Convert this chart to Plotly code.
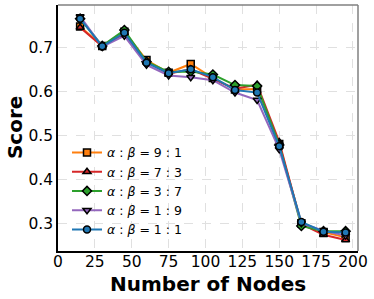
import plotly.graph_objects as go

nodes = [15, 30, 45, 60, 75, 90, 105, 120, 135, 150, 165, 180, 195]
s_9_1 = [0.747, 0.703, 0.735, 0.671, 0.642, 0.662, 0.630, 0.604, 0.605, 0.480, 0.300, 0.280, 0.268]
s_7_3 = [0.745, 0.702, 0.730, 0.667, 0.640, 0.650, 0.628, 0.606, 0.615, 0.485, 0.298, 0.274, 0.262]
s_3_7 = [0.765, 0.703, 0.739, 0.667, 0.644, 0.645, 0.638, 0.614, 0.612, 0.478, 0.294, 0.282, 0.282]
s_1_9 = [0.770, 0.701, 0.726, 0.660, 0.636, 0.632, 0.625, 0.597, 0.580, 0.468, 0.300, 0.283, 0.272]
s_1_1 = [0.765, 0.702, 0.733, 0.665, 0.641, 0.650, 0.632, 0.603, 0.597, 0.475, 0.303, 0.281, 0.279]

labels = ["9 : 1", "7 : 3", "3 : 7", "1 : 9", "1 : 1"]
series = [s_9_1, s_7_3, s_3_7, s_1_9, s_1_1]
colors = ["#ff7f0e", "#d62728", "#2ca02c", "#9467bd", "#1f77b4"]
symbols = ["square", "triangle-up", "diamond", "triangle-down", "circle"]

x_ticks = [0, 25, 50, 75, 100, 125, 150, 175, 200]
y_ticks = [0.3, 0.4, 0.5, 0.6, 0.7]

fig = go.Figure()
for lab, ys, c, sym in zip(labels, series, colors, symbols):
    fig.add_trace(go.Scatter(
        x=nodes, y=ys, mode="lines+markers",
        name="<i>α</i> : <i>β</i> = " + lab,
        line=dict(color=c, width=2),
        marker=dict(symbol=sym, size=7, color=c, line=dict(color="black", width=1.5)),
    ))

fig.update_layout(
    width=374, height=299,
    margin=dict(l=58, r=16, t=5, b=48, autoexpand=False),
    paper_bgcolor="white", plot_bgcolor="white",
    font=dict(family="DejaVu Sans", color="black"),
    showlegend=True,
    legend=dict(x=0.03, y=0.025, xanchor="left", yanchor="bottom",
                bgcolor="rgba(255,255,255,0)", font=dict(size=12.5),
                tracegroupgap=0, itemwidth=30),
    shapes=[
        dict(type="line", xref="paper", yref="paper", x0=0, x1=1, y0=1, y1=1,
             line=dict(color="#808080", width=1.5)),
        dict(type="line", xref="paper", yref="paper", x0=1, x1=1, y0=0, y1=1,
             line=dict(color="#808080", width=1.5)),
    ],
    annotations=[
        dict(text="<b>Number of Nodes</b>", xref="paper", yref="paper",
             x=0.5, y=-0.133, xanchor="center", yanchor="middle",
             showarrow=False, font=dict(size=20)),
        dict(text="<b>Score</b>", xref="paper", yref="paper",
             x=-0.143, y=0.5, xanchor="center", yanchor="middle", textangle=-90,
             showarrow=False, font=dict(size=20)),
    ],
)
fig.update_xaxes(
    range=[0, 203.4], tickvals=x_ticks, ticktext=[str(v) for v in x_ticks],
    tickfont=dict(size=15.5), ticks="", ticklabelstandoff=-4,
    showgrid=True, gridcolor="#e0e0e0", griddash="dash", gridwidth=1,
    showline=True, linecolor="black", linewidth=1.5,
    zeroline=False, automargin=False,
)
fig.update_yaxes(
    range=[0.237, 0.796], tickvals=y_ticks, ticktext=[f"{v:.1f}" for v in y_ticks],
    tickfont=dict(size=15.5), ticks="",
    showgrid=True, gridcolor="#e0e0e0", griddash="dash", gridwidth=1,
    showline=True, linecolor="black", linewidth=1.5,
    zeroline=False, automargin=False,
)

fig.write_html("out.html", config={"displayModeBar": False},
               post_script="document.body.style.margin='0';document.body.style.padding='0';")
